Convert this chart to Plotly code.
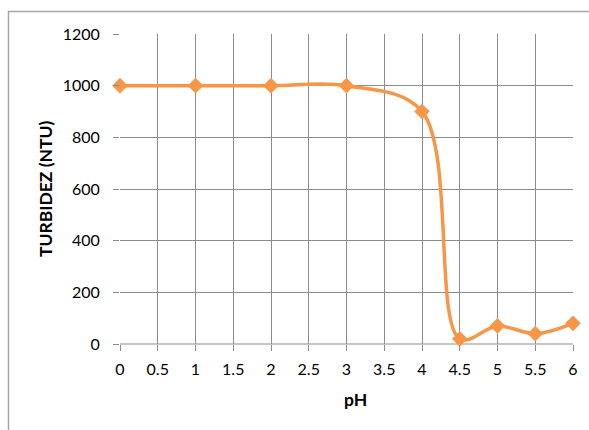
import plotly.graph_objects as go

ph = [0, 1, 2, 3, 4, 4.5, 5, 5.5, 6]
turbidez = [1000, 1000, 1000, 1000, 900, 20, 70, 40, 80]
x_ticks = [0, 0.5, 1, 1.5, 2, 2.5, 3, 3.5, 4, 4.5, 5, 5.5, 6]
x_tick_labels = ["0", "0.5", "1", "1.5", "2", "2.5", "3", "3.5", "4", "4.5", "5", "5.5", "6"]
y_ticks = [0, 200, 400, 600, 800, 1000, 1200]

W, H = 589, 430
L, R, T, B = 120, 16, 34, 86
pw, ph_px = W - L - R, H - T - B

fig = go.Figure()
fig.add_trace(go.Scatter(
    x=ph, y=turbidez, mode="lines+markers",
    line=dict(color="#F79646", width=3.5, shape="spline", smoothing=1),
    marker=dict(symbol="diamond", size=12, color="#F79646"),
    cliponaxis=False, showlegend=False,
))

grid = "#8c8c8c"
fig.update_layout(
    width=W, height=H,
    margin=dict(l=L, r=R, t=T, b=B, pad=0),
    paper_bgcolor="white", plot_bgcolor="white",
    font=dict(family="Lato, Calibri, sans-serif", size=16, color="black"),
    xaxis=dict(range=[0, 6], tickvals=x_ticks, ticktext=x_tick_labels,
               showgrid=True, gridcolor=grid, gridwidth=1,
               zeroline=False, showline=False,
               ticks="outside", ticklen=6, tickcolor=grid, tickwidth=1,
               ticklabelstandoff=5, fixedrange=True),
    yaxis=dict(range=[0, 1200], tickvals=y_ticks,
               showgrid=True, gridcolor=grid, gridwidth=1,
               zeroline=False, showline=False,
               ticks="outside", ticklen=6, tickcolor=grid, tickwidth=1,
               ticklabelstandoff=10, fixedrange=True),
    annotations=[
        dict(text="<b>TURBIDEZ (NTU)</b>", xref="paper", yref="paper",
             x=(45 - L) / pw, y=0.5, textangle=-90, showarrow=False,
             font=dict(size=17.5), xanchor="center", yanchor="middle"),
        dict(text="<b>pH</b>", xref="paper", yref="paper",
             x=(355 - L) / pw, y=(H - B - 399) / ph_px, showarrow=False,
             font=dict(size=17.5), xanchor="center", yanchor="middle"),
    ],
    shapes=[
        dict(type="rect", xref="paper", yref="paper",
             x0=(8.5 - L) / pw, x1=(W + 20 - L) / pw,
             y0=(H - B - (H + 20)) / ph_px, y1=(H - B - 11.5) / ph_px,
             line=dict(color="#a6a6a6", width=1.5), layer="below"),
        dict(type="line", xref="paper", yref="paper", x0=0, x1=1, y0=0, y1=0,
             line=dict(color=grid, width=1), layer="below"),
    ],
)

fig.write_html("out.html")
